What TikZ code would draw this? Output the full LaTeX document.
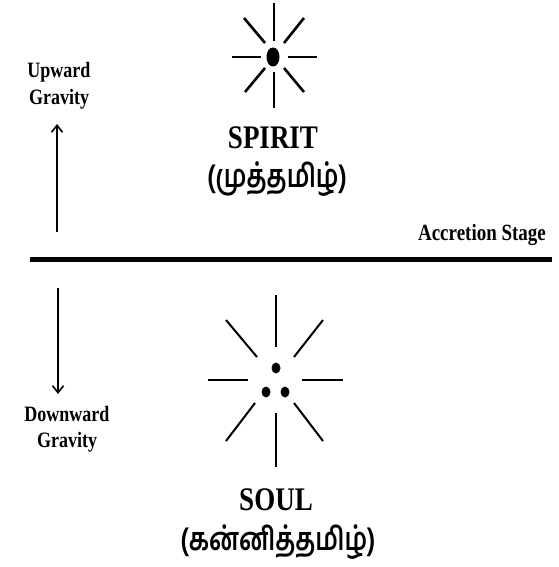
\documentclass[tikz,border=0pt]{standalone}
\usepackage{fontspec}
\usepackage{graphicx}
\setmainfont{Liberation Serif}
\newfontfamily\tamilfont[Script=Tamil]{Hind Madurai}
\usetikzlibrary{arrows.meta}
\newcommand{\tallbox}[1]{\scalebox{1}[1.22]{#1}}
\newcommand{\tambox}[1]{\scalebox{0.92}[1.18]{#1}}
\begin{document}
\begin{tikzpicture}[x=1pt,y=-1pt,
  ray/.style={line width=2.6pt},
  sray/.style={line width=2pt},
  lbl/.style={font=\bfseries\fontsize{18}{20}\selectfont, inner sep=0pt, anchor=base},
  big/.style={font=\bfseries\fontsize{27}{30}\selectfont, inner sep=0pt, anchor=base},
  tam/.style={font=\tamilfont\bfseries\fontsize{27}{30}\selectfont, inner sep=0pt, anchor=base},
  garrow/.style={line width=1.4pt, -{Straight Barb[length=7pt,width=11pt,line width=1.6pt]}}]
\useasboundingbox (0,0) rectangle (558,567);
% spirit star
\coordinate (sc) at (273,57);
\fill (sc) ellipse [x radius=6.5, y radius=9.5];
\draw[ray] (274,3) -- (274,41);
\draw[ray] (274,72) -- (274,108);
\draw[ray] (232,57) -- (261,57);
\draw[ray] (288,57) -- (317,57);
\draw[ray] (244,18) -- (265,43);
\draw[ray] (304,18) -- (284,43);
\draw[ray] (245,92) -- (265,68);
\draw[ray] (304,92) -- (284,68);
\node[big] (spirit) at (273,148) {\tallbox{SPIRIT}};
\node[tam] (spirittam) at (277,187) {\tambox{(முத்தமிழ்)}};
% accretion line
\coordinate (la) at (30,259.5);
\coordinate (lb) at (552,259.5);
\draw[line width=5pt] (la) -- (lb);
\node[lbl, font=\bfseries\fontsize{19}{21}\selectfont] (accr) at (482,240) {\tallbox{Accretion Stage}};
% upward
\node[lbl] (up1) at (59,78) {\tallbox{Upward}};
\node[lbl] (up2) at (59,105) {\tallbox{Gravity}};
\coordinate (ua) at (57,232);
\coordinate (ub) at (57,124);
\draw[garrow] (ua) -- (ub);
% downward
\coordinate (da) at (58,288);
\coordinate (db) at (58,394);
\draw[garrow] (da) -- (db);
\node[lbl] (dn1) at (67,421) {\tallbox{Downward}};
\node[lbl] (dn2) at (67,447) {\tallbox{Gravity}};
% soul star
\fill (276,368) ellipse [x radius=4.5, y radius=5.5];
\fill (266,392) ellipse [x radius=4.5, y radius=5.5];
\fill (285,392) ellipse [x radius=4.5, y radius=5.5];
\draw[sray] (276,295) -- (276,347);
\draw[sray] (276,413) -- (276,467);
\draw[sray] (208,380) -- (248,380);
\draw[sray] (302,380) -- (343,380);
\draw[sray] (226,320) -- (257,357);
\draw[sray] (323,320) -- (294,357);
\draw[sray] (226,441) -- (255,403);
\draw[sray] (323,441) -- (294,403);
\node[big] (soul) at (276,510) {\tallbox{SOUL}};
\node[tam] (soultam) at (278,550) {\tambox{(கன்னித்தமிழ்)}};
\end{tikzpicture}
\end{document}
